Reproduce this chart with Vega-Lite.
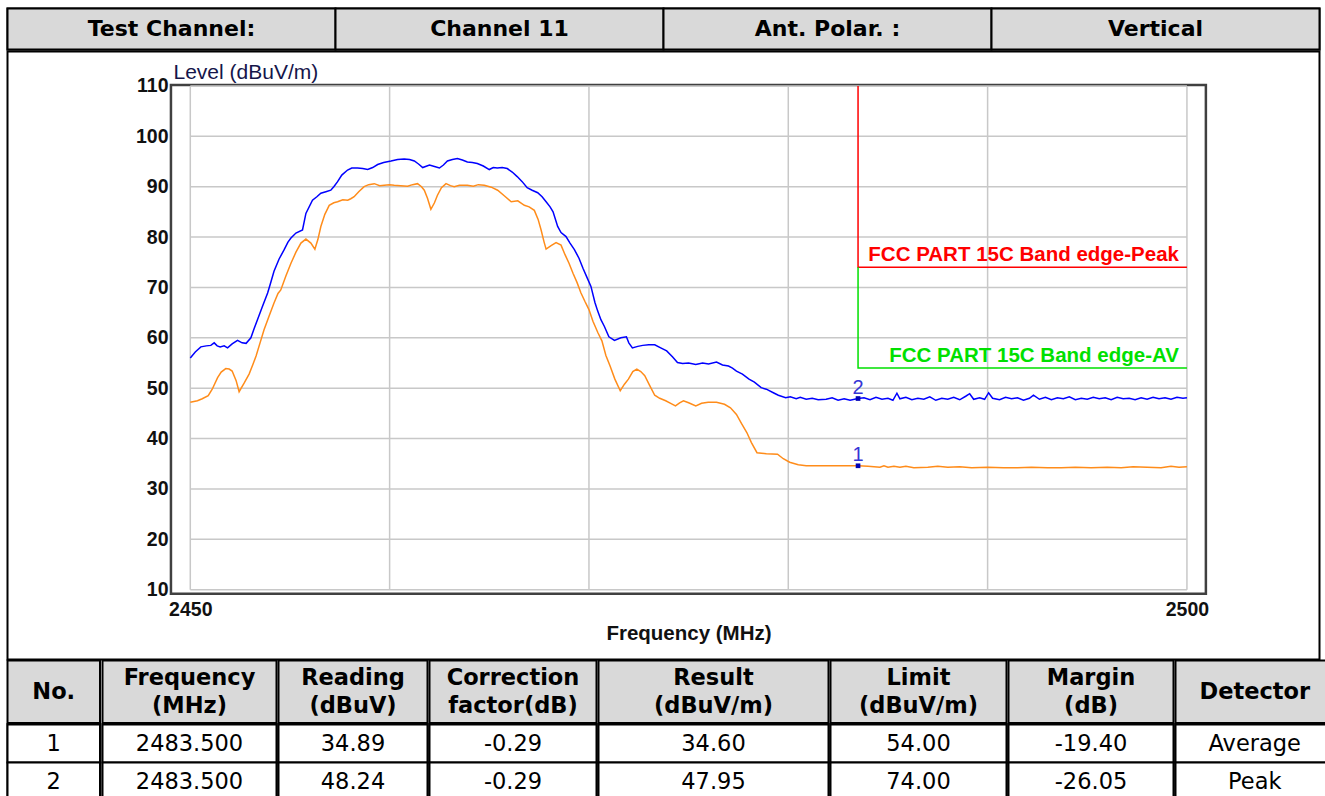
{
  "$schema": "https://vega.github.io/schema/vega-lite/v6.json",
  "background": "white",
  "padding": {"left": 5.5, "top": 6.5, "right": 0, "bottom": 0},
  "spacing": -2,
  "bounds": "full",
  "config": {
    "view": {"stroke": null},
    "font": "Liberation Sans",
    "locale": {"number": {"decimal": ".", "thousands": ",", "grouping": [3], "currency": ["$", ""], "minus": "-"}}
  },
  "datasets": {
    "table": [
      {"No": 1, "Frequency": 2483.5, "Reading": 34.89, "Correction": -0.29, "Result": 34.60, "Limit": 54.00, "Margin": -19.40, "Detector": "Average"},
      {"No": 2, "Frequency": 2483.5, "Reading": 48.24, "Correction": -0.29, "Result": 47.95, "Limit": 74.00, "Margin": -26.05, "Detector": "Peak"}
    ],
    "limits": [
      {"lim": "FCC PART 15C Band edge-Peak", "f": 2483.5, "v": 110, "o": 1},
      {"lim": "FCC PART 15C Band edge-Peak", "f": 2483.5, "v": 74, "o": 2},
      {"lim": "FCC PART 15C Band edge-Peak", "f": 2500, "v": 74, "o": 3},
      {"lim": "FCC PART 15C Band edge-AV", "f": 2483.5, "v": 74, "o": 1},
      {"lim": "FCC PART 15C Band edge-AV", "f": 2483.5, "v": 54, "o": 2},
      {"lim": "FCC PART 15C Band edge-AV", "f": 2500, "v": 54, "o": 3}
    ],
    "traces": [
      {"d":"Peak","f":2450.00,"v":56.0},{"d":"Peak","f":2450.25,"v":57.2},{"d":"Peak","f":2450.53,"v":58.2},{"d":"Peak","f":2450.8,"v":58.4},
      {"d":"Peak","f":2451.03,"v":58.5},{"d":"Peak","f":2451.2,"v":59.0},{"d":"Peak","f":2451.35,"v":58.4},{"d":"Peak","f":2451.5,"v":58.2},
      {"d":"Peak","f":2451.7,"v":58.4},{"d":"Peak","f":2451.87,"v":58.0},{"d":"Peak","f":2452.1,"v":58.8},{"d":"Peak","f":2452.37,"v":59.5},
      {"d":"Peak","f":2452.6,"v":59.0},{"d":"Peak","f":2452.8,"v":58.9},{"d":"Peak","f":2453.04,"v":60.0},{"d":"Peak","f":2453.2,"v":61.8},
      {"d":"Peak","f":2453.37,"v":63.6},{"d":"Peak","f":2453.6,"v":66.0},{"d":"Peak","f":2453.88,"v":68.9},{"d":"Peak","f":2454.0,"v":70.5},
      {"d":"Peak","f":2454.2,"v":73.2},{"d":"Peak","f":2454.45,"v":75.6},{"d":"Peak","f":2454.71,"v":77.5},{"d":"Peak","f":2454.9,"v":79.0},
      {"d":"Peak","f":2455.05,"v":79.8},{"d":"Peak","f":2455.3,"v":80.8},{"d":"Peak","f":2455.63,"v":81.4},{"d":"Peak","f":2455.8,"v":84.7},
      {"d":"Peak","f":2456.13,"v":87.3},{"d":"Peak","f":2456.35,"v":88.0},{"d":"Peak","f":2456.55,"v":88.7},{"d":"Peak","f":2456.8,"v":89.0},
      {"d":"Peak","f":2457.05,"v":89.3},{"d":"Peak","f":2457.2,"v":90.0},{"d":"Peak","f":2457.39,"v":91.0},{"d":"Peak","f":2457.6,"v":92.3},
      {"d":"Peak","f":2457.89,"v":93.3},{"d":"Peak","f":2458.1,"v":93.7},{"d":"Peak","f":2458.39,"v":93.7},{"d":"Peak","f":2458.65,"v":93.6},
      {"d":"Peak","f":2458.9,"v":93.4},{"d":"Peak","f":2459.15,"v":93.8},{"d":"Peak","f":2459.4,"v":94.4},{"d":"Peak","f":2459.7,"v":94.8},
      {"d":"Peak","f":2460.07,"v":95.1},{"d":"Peak","f":2460.4,"v":95.4},{"d":"Peak","f":2460.73,"v":95.5},{"d":"Peak","f":2461.0,"v":95.4},
      {"d":"Peak","f":2461.24,"v":95.1},{"d":"Peak","f":2461.45,"v":94.5},{"d":"Peak","f":2461.66,"v":93.8},{"d":"Peak","f":2462.0,"v":94.3},
      {"d":"Peak","f":2462.25,"v":94.0},{"d":"Peak","f":2462.5,"v":93.7},{"d":"Peak","f":2462.7,"v":94.3},{"d":"Peak","f":2462.9,"v":95.1},
      {"d":"Peak","f":2463.15,"v":95.4},{"d":"Peak","f":2463.4,"v":95.6},{"d":"Peak","f":2463.65,"v":95.3},{"d":"Peak","f":2463.9,"v":94.9},
      {"d":"Peak","f":2464.15,"v":94.8},{"d":"Peak","f":2464.4,"v":94.6},{"d":"Peak","f":2464.7,"v":94.1},{"d":"Peak","f":2465.0,"v":93.4},
      {"d":"Peak","f":2465.2,"v":93.8},{"d":"Peak","f":2465.4,"v":93.7},{"d":"Peak","f":2465.65,"v":93.8},{"d":"Peak","f":2465.9,"v":93.6},
      {"d":"Peak","f":2466.15,"v":92.9},{"d":"Peak","f":2466.4,"v":92.0},{"d":"Peak","f":2466.65,"v":91.0},{"d":"Peak","f":2466.9,"v":89.8},
      {"d":"Peak","f":2467.15,"v":89.3},{"d":"Peak","f":2467.43,"v":88.8},{"d":"Peak","f":2467.65,"v":88.0},{"d":"Peak","f":2467.85,"v":87.0},
      {"d":"Peak","f":2468.05,"v":86.0},{"d":"Peak","f":2468.2,"v":85.0},{"d":"Peak","f":2468.43,"v":82.1},{"d":"Peak","f":2468.6,"v":80.9},
      {"d":"Peak","f":2468.85,"v":80.1},{"d":"Peak","f":2469.05,"v":78.8},{"d":"Peak","f":2469.27,"v":77.5},{"d":"Peak","f":2469.5,"v":75.8},
      {"d":"Peak","f":2469.7,"v":73.8},{"d":"Peak","f":2469.9,"v":72.0},{"d":"Peak","f":2470.1,"v":70.2},{"d":"Peak","f":2470.3,"v":67.0},
      {"d":"Peak","f":2470.44,"v":65.3},{"d":"Peak","f":2470.6,"v":63.6},{"d":"Peak","f":2470.77,"v":62.3},{"d":"Peak","f":2471.0,"v":60.2},
      {"d":"Peak","f":2471.28,"v":59.5},{"d":"Peak","f":2471.6,"v":60.0},{"d":"Peak","f":2471.88,"v":60.2},{"d":"Peak","f":2472.0,"v":59.0},
      {"d":"Peak","f":2472.18,"v":58.0},{"d":"Peak","f":2472.45,"v":58.3},{"d":"Peak","f":2472.7,"v":58.5},{"d":"Peak","f":2473.0,"v":58.6},
      {"d":"Peak","f":2473.3,"v":58.6},{"d":"Peak","f":2473.6,"v":58.0},{"d":"Peak","f":2473.9,"v":57.4},{"d":"Peak","f":2474.2,"v":56.2},
      {"d":"Peak","f":2474.44,"v":55.1},{"d":"Peak","f":2474.7,"v":54.9},{"d":"Peak","f":2475.0,"v":55.0},{"d":"Peak","f":2475.36,"v":54.7},
      {"d":"Peak","f":2475.7,"v":55.0},{"d":"Peak","f":2476.0,"v":54.8},{"d":"Peak","f":2476.4,"v":55.2},{"d":"Peak","f":2476.7,"v":54.6},
      {"d":"Peak","f":2477.0,"v":54.4},{"d":"Peak","f":2477.2,"v":54.0},{"d":"Peak","f":2477.4,"v":53.4},{"d":"Peak","f":2477.7,"v":52.8},
      {"d":"Peak","f":2478.03,"v":51.8},{"d":"Peak","f":2478.3,"v":51.2},{"d":"Peak","f":2478.64,"v":50.1},{"d":"Peak","f":2478.9,"v":49.8},
      {"d":"Peak","f":2479.25,"v":49.1},{"d":"Peak","f":2479.5,"v":48.6},{"d":"Peak","f":2479.87,"v":48.1},{"d":"Peak","f":2480.1,"v":48.3},
      {"d":"Peak","f":2480.4,"v":47.9},{"d":"Peak","f":2480.6,"v":48.2},{"d":"Peak","f":2480.9,"v":47.8},{"d":"Peak","f":2481.2,"v":48.0},
      {"d":"Peak","f":2481.5,"v":47.7},{"d":"Peak","f":2481.9,"v":47.8},{"d":"Peak","f":2482.2,"v":48.1},{"d":"Peak","f":2482.5,"v":47.6},
      {"d":"Peak","f":2482.8,"v":47.9},{"d":"Peak","f":2483.1,"v":47.6},{"d":"Peak","f":2483.5,"v":47.95},{"d":"Peak","f":2483.8,"v":48.1},
      {"d":"Peak","f":2484.1,"v":47.7},{"d":"Peak","f":2484.4,"v":48.2},{"d":"Peak","f":2484.7,"v":47.8},{"d":"Peak","f":2485.0,"v":48.0},
      {"d":"Peak","f":2485.25,"v":47.6},{"d":"Peak","f":2485.45,"v":49.0},{"d":"Peak","f":2485.6,"v":47.9},{"d":"Peak","f":2485.9,"v":48.2},
      {"d":"Peak","f":2486.2,"v":47.7},{"d":"Peak","f":2486.5,"v":48.0},{"d":"Peak","f":2486.8,"v":47.8},{"d":"Peak","f":2487.1,"v":48.3},
      {"d":"Peak","f":2487.4,"v":47.6},{"d":"Peak","f":2487.7,"v":48.0},{"d":"Peak","f":2488.0,"v":47.8},{"d":"Peak","f":2488.3,"v":48.2},
      {"d":"Peak","f":2488.6,"v":47.7},{"d":"Peak","f":2488.9,"v":48.4},{"d":"Peak","f":2489.1,"v":48.9},{"d":"Peak","f":2489.3,"v":47.8},
      {"d":"Peak","f":2489.6,"v":48.1},{"d":"Peak","f":2489.85,"v":47.8},{"d":"Peak","f":2490.05,"v":49.1},{"d":"Peak","f":2490.25,"v":48.0},
      {"d":"Peak","f":2490.6,"v":47.7},{"d":"Peak","f":2490.9,"v":48.2},{"d":"Peak","f":2491.2,"v":47.9},{"d":"Peak","f":2491.5,"v":48.1},
      {"d":"Peak","f":2491.8,"v":47.6},{"d":"Peak","f":2492.1,"v":48.0},{"d":"Peak","f":2492.3,"v":48.6},{"d":"Peak","f":2492.6,"v":47.8},
      {"d":"Peak","f":2492.9,"v":48.2},{"d":"Peak","f":2493.2,"v":47.7},{"d":"Peak","f":2493.5,"v":48.1},{"d":"Peak","f":2493.8,"v":47.9},
      {"d":"Peak","f":2494.1,"v":48.3},{"d":"Peak","f":2494.4,"v":47.7},{"d":"Peak","f":2494.7,"v":48.0},{"d":"Peak","f":2495.0,"v":47.8},
      {"d":"Peak","f":2495.3,"v":48.2},{"d":"Peak","f":2495.6,"v":47.9},{"d":"Peak","f":2495.9,"v":48.1},{"d":"Peak","f":2496.2,"v":47.7},
      {"d":"Peak","f":2496.5,"v":48.2},{"d":"Peak","f":2496.8,"v":47.9},{"d":"Peak","f":2497.1,"v":48.0},{"d":"Peak","f":2497.4,"v":47.7},
      {"d":"Peak","f":2497.7,"v":48.1},{"d":"Peak","f":2498.0,"v":47.8},{"d":"Peak","f":2498.3,"v":48.2},{"d":"Peak","f":2498.6,"v":47.9},
      {"d":"Peak","f":2498.9,"v":48.1},{"d":"Peak","f":2499.2,"v":47.8},{"d":"Peak","f":2499.5,"v":48.2},{"d":"Peak","f":2499.8,"v":48.0},
      {"d":"Peak","f":2500.0,"v":48.1},
      {"d":"Average","f":2450.0,"v":47.2},{"d":"Average","f":2450.36,"v":47.5},{"d":"Average","f":2450.6,"v":47.9},{"d":"Average","f":2450.9,"v":48.5},
      {"d":"Average","f":2451.1,"v":49.8},{"d":"Average","f":2451.37,"v":52.1},{"d":"Average","f":2451.55,"v":53.2},{"d":"Average","f":2451.78,"v":53.9},
      {"d":"Average","f":2451.95,"v":53.8},{"d":"Average","f":2452.1,"v":53.4},{"d":"Average","f":2452.3,"v":51.5},{"d":"Average","f":2452.45,"v":49.3},
      {"d":"Average","f":2452.7,"v":51.0},{"d":"Average","f":2452.95,"v":52.8},{"d":"Average","f":2453.15,"v":54.8},{"d":"Average","f":2453.3,"v":56.4},
      {"d":"Average","f":2453.5,"v":59.0},{"d":"Average","f":2453.7,"v":61.6},{"d":"Average","f":2453.95,"v":64.3},{"d":"Average","f":2454.2,"v":66.9},
      {"d":"Average","f":2454.4,"v":68.8},{"d":"Average","f":2454.54,"v":69.5},{"d":"Average","f":2454.8,"v":72.3},{"d":"Average","f":2455.05,"v":74.8},
      {"d":"Average","f":2455.3,"v":77.0},{"d":"Average","f":2455.55,"v":78.8},{"d":"Average","f":2455.8,"v":79.6},{"d":"Average","f":2456.05,"v":78.8},
      {"d":"Average","f":2456.25,"v":77.6},{"d":"Average","f":2456.4,"v":79.5},{"d":"Average","f":2456.55,"v":82.1},{"d":"Average","f":2456.75,"v":84.5},
      {"d":"Average","f":2456.97,"v":86.3},{"d":"Average","f":2457.2,"v":86.8},{"d":"Average","f":2457.39,"v":87.0},{"d":"Average","f":2457.65,"v":87.4},
      {"d":"Average","f":2457.9,"v":87.3},{"d":"Average","f":2458.05,"v":87.6},{"d":"Average","f":2458.22,"v":88.0},{"d":"Average","f":2458.45,"v":89.0},
      {"d":"Average","f":2458.72,"v":90.0},{"d":"Average","f":2458.95,"v":90.4},{"d":"Average","f":2459.23,"v":90.6},{"d":"Average","f":2459.5,"v":90.2},
      {"d":"Average","f":2459.73,"v":90.3},{"d":"Average","f":2460.0,"v":90.4},{"d":"Average","f":2460.23,"v":90.3},{"d":"Average","f":2460.55,"v":90.2},
      {"d":"Average","f":2460.9,"v":90.1},{"d":"Average","f":2461.15,"v":90.4},{"d":"Average","f":2461.4,"v":90.6},{"d":"Average","f":2461.6,"v":90.0},
      {"d":"Average","f":2461.74,"v":89.3},{"d":"Average","f":2461.9,"v":87.7},{"d":"Average","f":2462.07,"v":85.5},{"d":"Average","f":2462.25,"v":86.8},
      {"d":"Average","f":2462.4,"v":88.3},{"d":"Average","f":2462.6,"v":89.8},{"d":"Average","f":2462.83,"v":90.6},{"d":"Average","f":2463.05,"v":90.2},
      {"d":"Average","f":2463.24,"v":90.0},{"d":"Average","f":2463.5,"v":90.3},{"d":"Average","f":2463.9,"v":90.3},{"d":"Average","f":2464.2,"v":90.1},
      {"d":"Average","f":2464.45,"v":90.4},{"d":"Average","f":2464.75,"v":90.3},{"d":"Average","f":2465.1,"v":89.9},{"d":"Average","f":2465.42,"v":89.3},
      {"d":"Average","f":2465.75,"v":88.2},{"d":"Average","f":2466.1,"v":87.0},{"d":"Average","f":2466.43,"v":87.2},{"d":"Average","f":2466.76,"v":86.3},
      {"d":"Average","f":2467.0,"v":86.0},{"d":"Average","f":2467.26,"v":85.3},{"d":"Average","f":2467.45,"v":83.5},{"d":"Average","f":2467.6,"v":81.4},
      {"d":"Average","f":2467.75,"v":79.0},{"d":"Average","f":2467.85,"v":77.6},{"d":"Average","f":2468.1,"v":78.3},{"d":"Average","f":2468.35,"v":78.9},
      {"d":"Average","f":2468.6,"v":78.4},{"d":"Average","f":2468.8,"v":76.5},{"d":"Average","f":2469.0,"v":74.8},{"d":"Average","f":2469.2,"v":72.8},
      {"d":"Average","f":2469.4,"v":71.0},{"d":"Average","f":2469.6,"v":68.9},{"d":"Average","f":2469.8,"v":67.2},{"d":"Average","f":2470.0,"v":65.6},
      {"d":"Average","f":2470.2,"v":63.3},{"d":"Average","f":2470.45,"v":61.0},{"d":"Average","f":2470.65,"v":59.4},{"d":"Average","f":2470.85,"v":56.5},
      {"d":"Average","f":2471.06,"v":54.4},{"d":"Average","f":2471.3,"v":51.8},{"d":"Average","f":2471.57,"v":49.5},{"d":"Average","f":2471.78,"v":50.8},
      {"d":"Average","f":2471.98,"v":51.8},{"d":"Average","f":2472.2,"v":53.3},{"d":"Average","f":2472.4,"v":53.8},{"d":"Average","f":2472.6,"v":53.3},
      {"d":"Average","f":2472.8,"v":52.5},{"d":"Average","f":2473.05,"v":50.5},{"d":"Average","f":2473.3,"v":48.6},{"d":"Average","f":2473.55,"v":48.0},
      {"d":"Average","f":2473.85,"v":47.5},{"d":"Average","f":2474.1,"v":47.0},{"d":"Average","f":2474.34,"v":46.5},{"d":"Average","f":2474.55,"v":47.1},
      {"d":"Average","f":2474.74,"v":47.5},{"d":"Average","f":2475.0,"v":47.1},{"d":"Average","f":2475.36,"v":46.5},{"d":"Average","f":2475.65,"v":47.0},
      {"d":"Average","f":2475.98,"v":47.2},{"d":"Average","f":2476.4,"v":47.2},{"d":"Average","f":2476.8,"v":46.8},{"d":"Average","f":2477.1,"v":46.1},
      {"d":"Average","f":2477.4,"v":44.8},{"d":"Average","f":2477.65,"v":43.0},{"d":"Average","f":2477.92,"v":41.2},{"d":"Average","f":2478.15,"v":39.2},
      {"d":"Average","f":2478.43,"v":37.2},{"d":"Average","f":2478.9,"v":37.0},{"d":"Average","f":2479.46,"v":36.9},{"d":"Average","f":2479.75,"v":36.0},
      {"d":"Average","f":2480.07,"v":35.3},{"d":"Average","f":2480.5,"v":34.8},{"d":"Average","f":2480.9,"v":34.6},{"d":"Average","f":2481.3,"v":34.6},
      {"d":"Average","f":2482.0,"v":34.6},{"d":"Average","f":2482.8,"v":34.6},{"d":"Average","f":2483.5,"v":34.6},{"d":"Average","f":2484.0,"v":34.5},
      {"d":"Average","f":2484.6,"v":34.3},{"d":"Average","f":2484.8,"v":34.6},{"d":"Average","f":2485.0,"v":34.3},{"d":"Average","f":2485.3,"v":34.5},
      {"d":"Average","f":2485.6,"v":34.3},{"d":"Average","f":2485.9,"v":34.5},{"d":"Average","f":2486.3,"v":34.2},{"d":"Average","f":2487.0,"v":34.3},
      {"d":"Average","f":2487.5,"v":34.5},{"d":"Average","f":2488.0,"v":34.3},{"d":"Average","f":2488.6,"v":34.4},{"d":"Average","f":2489.2,"v":34.2},
      {"d":"Average","f":2490.0,"v":34.3},{"d":"Average","f":2490.8,"v":34.2},{"d":"Average","f":2491.5,"v":34.2},{"d":"Average","f":2492.2,"v":34.3},
      {"d":"Average","f":2493.0,"v":34.2},{"d":"Average","f":2493.7,"v":34.2},{"d":"Average","f":2494.4,"v":34.3},{"d":"Average","f":2495.2,"v":34.2},
      {"d":"Average","f":2496.0,"v":34.3},{"d":"Average","f":2496.7,"v":34.2},{"d":"Average","f":2497.3,"v":34.4},{"d":"Average","f":2498.0,"v":34.3},
      {"d":"Average","f":2498.7,"v":34.2},{"d":"Average","f":2499.2,"v":34.5},{"d":"Average","f":2499.6,"v":34.3},{"d":"Average","f":2500.0,"v":34.4}
    ]
  },
  "vconcat": [
    {
      "width": 1312,
      "height": 41,
      "data": {"values": [
        {"cell": "a", "label": "Test Channel:"},
        {"cell": "b", "label": "Channel 11"},
        {"cell": "c", "label": "Ant. Polar. :"},
        {"cell": "d", "label": "Vertical"}
      ]},
      "view": {"stroke": "black", "strokeWidth": 2},
      "encoding": {
        "x": {"field": "cell", "type": "ordinal", "sort": null, "axis": null, "scale": {"paddingInner": 0, "paddingOuter": 0}}
      },
      "layer": [
        {"mark": {"type": "rect", "fill": "#d9d9d9", "stroke": "black", "strokeWidth": 2}},
        {"mark": {"type": "text", "font": "DejaVu Sans", "fontWeight": "bold", "fontSize": 22, "color": "black"},
         "encoding": {"text": {"field": "label", "type": "nominal"}}}
      ]
    },
    {
      "width": 1312,
      "height": 608,
      "view": {"stroke": "black", "strokeWidth": 2, "fill": "white"},
      "layer": [
        {
          "data": {"values": [{}]},
          "mark": {"type": "rect", "fill": "white", "stroke": "#404040", "strokeWidth": 2.5},
          "encoding": {
            "x": {"datum": 2449.03, "type": "quantitative", "scale": {"domain": [2440.83, 2506.65], "nice": false, "zero": false},
              "axis": {"values": [2450, 2500], "format": "d", "offset": -65.8, "domain": false, "ticks": false, "grid": false,
                "labelFont": "Liberation Sans", "labelFontWeight": "bold", "labelFontSize": 19.5, "labelColor": "#111111", "labelPadding": 7, "labelFlush": false,
                "title": "Frequency (MHz)", "titleFont": "Liberation Sans", "titleFontWeight": "bold", "titleFontSize": 20.5, "titleColor": "#111111",
                "titleX": 681, "titleY": 40, "titleBaseline": "middle", "titleAlign": "center"}},
            "x2": {"datum": 2500.95},
            "y": {"datum": 9.21, "type": "quantitative", "scale": {"domain": [-3.85, 116.83], "nice": false, "zero": false},
              "axis": {"values": [10, 20, 30, 40, 50, 60, 70, 80, 90, 100, 110], "format": "d", "offset": -163.5, "domain": false, "ticks": false, "grid": false,
                "labelFont": "Liberation Sans", "labelFontWeight": "bold", "labelFontSize": 19.5, "labelColor": "#111111", "labelPadding": 3, "labelFlush": false,
                "title": "Level (dBuV/m)", "titleFont": "Liberation Sans", "titleFontWeight": "normal", "titleFontSize": 21, "titleColor": "#15154a",
                "titleAngle": 0, "titleAlign": "left", "titleBaseline": "alphabetic", "titleX": 2, "titleY": 27}},
            "y2": {"datum": 110.18}
          }
        },
        {
          "data": {"values": [{"g": 2450}, {"g": 2460}, {"g": 2470}, {"g": 2480}, {"g": 2490}, {"g": 2500}]},
          "mark": {"type": "rule", "color": "#c8c8c8", "strokeWidth": 1.5},
          "encoding": {
            "x": {"field": "g", "type": "quantitative"},
            "y": {"datum": 10, "type": "quantitative"},
            "y2": {"datum": 110}
          }
        },
        {
          "data": {"values": [{"g": 10}, {"g": 20}, {"g": 30}, {"g": 40}, {"g": 50}, {"g": 60}, {"g": 70}, {"g": 80}, {"g": 90}, {"g": 100}, {"g": 110}]},
          "mark": {"type": "rule", "color": "#c8c8c8", "strokeWidth": 1.5},
          "encoding": {
            "x": {"datum": 2450, "type": "quantitative"},
            "x2": {"datum": 2500},
            "y": {"field": "g", "type": "quantitative"}
          }
        },
        {
          "data": {"name": "limits"},
          "mark": {"type": "line", "strokeWidth": 1.5},
          "encoding": {
            "x": {"field": "f", "type": "quantitative"},
            "y": {"field": "v", "type": "quantitative"},
            "stroke": {"field": "lim", "type": "nominal", "scale": {"domain": ["FCC PART 15C Band edge-Peak", "FCC PART 15C Band edge-AV"], "range": ["#ff0000", "#00e000"]}, "legend": null},
            "order": {"field": "o", "type": "quantitative"}
          }
        },
        {
          "data": {"name": "limits"},
          "transform": [{"filter": "datum.o == 3"}],
          "mark": {"type": "text", "align": "right", "baseline": "alphabetic", "dx": -8, "dy": -6, "font": "Liberation Sans", "fontWeight": "bold", "fontSize": 20.5},
          "encoding": {
            "x": {"field": "f", "type": "quantitative"},
            "y": {"field": "v", "type": "quantitative"},
            "text": {"field": "lim", "type": "nominal"},
            "fill": {"field": "lim", "type": "nominal", "scale": {"domain": ["FCC PART 15C Band edge-Peak", "FCC PART 15C Band edge-AV"], "range": ["#ff0000", "#00e000"]}, "legend": null}
          }
        },
        {
          "data": {"name": "traces"},
          "mark": {"type": "line", "strokeWidth": 1.5},
          "encoding": {
            "x": {"field": "f", "type": "quantitative"},
            "y": {"field": "v", "type": "quantitative"},
            "color": {"field": "d", "type": "nominal", "scale": {"domain": ["Peak", "Average"], "range": ["#0000ff", "#ff8c1a"]}, "legend": null}
          }
        },
        {
          "data": {"name": "table"},
          "mark": {"type": "square", "size": 22, "color": "#0000b4", "filled": true, "opacity": 1},
          "encoding": {
            "x": {"field": "Frequency", "type": "quantitative"},
            "y": {"field": "Result", "type": "quantitative"}
          }
        },
        {
          "data": {"name": "table"},
          "mark": {"type": "text", "baseline": "alphabetic", "dy": -5, "fontSize": 20, "color": "#3535d5", "font": "Liberation Sans"},
          "encoding": {
            "x": {"field": "Frequency", "type": "quantitative"},
            "y": {"field": "Result", "type": "quantitative"},
            "text": {"field": "No", "type": "nominal"}
          }
        }
      ]
    },
    {
      "spacing": -2,
      "bounds": "full",
      "hconcat": [
        {"spacing": -2, "bounds": "full", "vconcat": [
          {"width": 92.5, "height": 62.5, "data": {"values": [{"label": "No."}]}, "view": {"fill": "#d9d9d9", "stroke": "black", "strokeWidth": 2},
           "mark": {"type": "text", "font": "DejaVu Sans", "fontWeight": "bold", "fontSize": 22.5, "color": "black"},
           "encoding": {"text": {"field": "label", "type": "nominal"}}},
          {"width": 92.5, "height": 76, "data": {"name": "table"}, "view": {"stroke": "black", "strokeWidth": 2},
           "encoding": {"y": {"field": "No", "type": "ordinal", "axis": null, "scale": {"paddingInner": 0, "paddingOuter": 0}}},
           "layer": [
             {"mark": {"type": "rect", "fill": "white", "stroke": "black", "strokeWidth": 2}},
             {"mark": {"type": "text", "font": "DejaVu Sans", "fontSize": 22.5, "color": "black"}, "encoding": {"text": {"field": "No", "type": "nominal"}}}
           ]}
        ]},
        {"spacing": -2, "bounds": "full", "vconcat": [
          {"width": 174, "height": 62.5, "data": {"values": [{"label": "Frequency\n(MHz)"}]}, "view": {"fill": "#d9d9d9", "stroke": "black", "strokeWidth": 2},
           "mark": {"type": "text", "font": "DejaVu Sans", "fontWeight": "bold", "fontSize": 22.5, "lineBreak": "\n", "lineHeight": 28, "dy": -14, "color": "black"},
           "encoding": {"text": {"field": "label", "type": "nominal"}}},
          {"width": 174, "height": 76, "data": {"name": "table"}, "view": {"stroke": "black", "strokeWidth": 2},
           "encoding": {"y": {"field": "No", "type": "ordinal", "axis": null, "scale": {"paddingInner": 0, "paddingOuter": 0}}},
           "layer": [
             {"mark": {"type": "rect", "fill": "white", "stroke": "black", "strokeWidth": 2}},
             {"mark": {"type": "text", "font": "DejaVu Sans", "fontSize": 22.5, "color": "black"}, "encoding": {"text": {"field": "Frequency", "type": "quantitative", "format": ".3f"}}}
           ]}
        ]},
        {"spacing": -2, "bounds": "full", "vconcat": [
          {"width": 149, "height": 62.5, "data": {"values": [{"label": "Reading\n(dBuV)"}]}, "view": {"fill": "#d9d9d9", "stroke": "black", "strokeWidth": 2},
           "mark": {"type": "text", "font": "DejaVu Sans", "fontWeight": "bold", "fontSize": 22.5, "lineBreak": "\n", "lineHeight": 28, "dy": -14, "color": "black"},
           "encoding": {"text": {"field": "label", "type": "nominal"}}},
          {"width": 149, "height": 76, "data": {"name": "table"}, "view": {"stroke": "black", "strokeWidth": 2},
           "encoding": {"y": {"field": "No", "type": "ordinal", "axis": null, "scale": {"paddingInner": 0, "paddingOuter": 0}}},
           "layer": [
             {"mark": {"type": "rect", "fill": "white", "stroke": "black", "strokeWidth": 2}},
             {"mark": {"type": "text", "font": "DejaVu Sans", "fontSize": 22.5, "color": "black"}, "encoding": {"text": {"field": "Reading", "type": "quantitative", "format": ".2f"}}}
           ]}
        ]},
        {"spacing": -2, "bounds": "full", "vconcat": [
          {"width": 167, "height": 62.5, "data": {"values": [{"label": "Correction\nfactor(dB)"}]}, "view": {"fill": "#d9d9d9", "stroke": "black", "strokeWidth": 2},
           "mark": {"type": "text", "font": "DejaVu Sans", "fontWeight": "bold", "fontSize": 22.5, "lineBreak": "\n", "lineHeight": 28, "dy": -14, "color": "black"},
           "encoding": {"text": {"field": "label", "type": "nominal"}}},
          {"width": 167, "height": 76, "data": {"name": "table"}, "view": {"stroke": "black", "strokeWidth": 2},
           "encoding": {"y": {"field": "No", "type": "ordinal", "axis": null, "scale": {"paddingInner": 0, "paddingOuter": 0}}},
           "layer": [
             {"mark": {"type": "rect", "fill": "white", "stroke": "black", "strokeWidth": 2}},
             {"mark": {"type": "text", "font": "DejaVu Sans", "fontSize": 22.5, "color": "black"}, "encoding": {"text": {"field": "Correction", "type": "quantitative", "format": ".2f"}}}
           ]}
        ]},
        {"spacing": -2, "bounds": "full", "vconcat": [
          {"width": 230, "height": 62.5, "data": {"values": [{"label": "Result\n(dBuV/m)"}]}, "view": {"fill": "#d9d9d9", "stroke": "black", "strokeWidth": 2},
           "mark": {"type": "text", "font": "DejaVu Sans", "fontWeight": "bold", "fontSize": 22.5, "lineBreak": "\n", "lineHeight": 28, "dy": -14, "color": "black"},
           "encoding": {"text": {"field": "label", "type": "nominal"}}},
          {"width": 230, "height": 76, "data": {"name": "table"}, "view": {"stroke": "black", "strokeWidth": 2},
           "encoding": {"y": {"field": "No", "type": "ordinal", "axis": null, "scale": {"paddingInner": 0, "paddingOuter": 0}}},
           "layer": [
             {"mark": {"type": "rect", "fill": "white", "stroke": "black", "strokeWidth": 2}},
             {"mark": {"type": "text", "font": "DejaVu Sans", "fontSize": 22.5, "color": "black"}, "encoding": {"text": {"field": "Result", "type": "quantitative", "format": ".2f"}}}
           ]}
        ]},
        {"spacing": -2, "bounds": "full", "vconcat": [
          {"width": 176, "height": 62.5, "data": {"values": [{"label": "Limit\n(dBuV/m)"}]}, "view": {"fill": "#d9d9d9", "stroke": "black", "strokeWidth": 2},
           "mark": {"type": "text", "font": "DejaVu Sans", "fontWeight": "bold", "fontSize": 22.5, "lineBreak": "\n", "lineHeight": 28, "dy": -14, "color": "black"},
           "encoding": {"text": {"field": "label", "type": "nominal"}}},
          {"width": 176, "height": 76, "data": {"name": "table"}, "view": {"stroke": "black", "strokeWidth": 2},
           "encoding": {"y": {"field": "No", "type": "ordinal", "axis": null, "scale": {"paddingInner": 0, "paddingOuter": 0}}},
           "layer": [
             {"mark": {"type": "rect", "fill": "white", "stroke": "black", "strokeWidth": 2}},
             {"mark": {"type": "text", "font": "DejaVu Sans", "fontSize": 22.5, "color": "black"}, "encoding": {"text": {"field": "Limit", "type": "quantitative", "format": ".2f"}}}
           ]}
        ]},
        {"spacing": -2, "bounds": "full", "vconcat": [
          {"width": 165, "height": 62.5, "data": {"values": [{"label": "Margin\n(dB)"}]}, "view": {"fill": "#d9d9d9", "stroke": "black", "strokeWidth": 2},
           "mark": {"type": "text", "font": "DejaVu Sans", "fontWeight": "bold", "fontSize": 22.5, "lineBreak": "\n", "lineHeight": 28, "dy": -14, "color": "black"},
           "encoding": {"text": {"field": "label", "type": "nominal"}}},
          {"width": 165, "height": 76, "data": {"name": "table"}, "view": {"stroke": "black", "strokeWidth": 2},
           "encoding": {"y": {"field": "No", "type": "ordinal", "axis": null, "scale": {"paddingInner": 0, "paddingOuter": 0}}},
           "layer": [
             {"mark": {"type": "rect", "fill": "white", "stroke": "black", "strokeWidth": 2}},
             {"mark": {"type": "text", "font": "DejaVu Sans", "fontSize": 22.5, "color": "black"}, "encoding": {"text": {"field": "Margin", "type": "quantitative", "format": ".2f"}}}
           ]}
        ]},
        {"spacing": -2, "bounds": "full", "vconcat": [
          {"width": 158.5, "height": 62.5, "data": {"values": [{"label": "Detector"}]}, "view": {"fill": "#d9d9d9", "stroke": "black", "strokeWidth": 2},
           "mark": {"type": "text", "font": "DejaVu Sans", "fontWeight": "bold", "fontSize": 22.5, "color": "black"},
           "encoding": {"text": {"field": "label", "type": "nominal"}}},
          {"width": 158.5, "height": 76, "data": {"name": "table"}, "view": {"stroke": "black", "strokeWidth": 2},
           "encoding": {"y": {"field": "No", "type": "ordinal", "axis": null, "scale": {"paddingInner": 0, "paddingOuter": 0}}},
           "layer": [
             {"mark": {"type": "rect", "fill": "white", "stroke": "black", "strokeWidth": 2}},
             {"mark": {"type": "text", "font": "DejaVu Sans", "fontSize": 22.5, "color": "black"}, "encoding": {"text": {"field": "Detector", "type": "nominal"}}}
           ]}
        ]}
      ]
    }
  ]
}
